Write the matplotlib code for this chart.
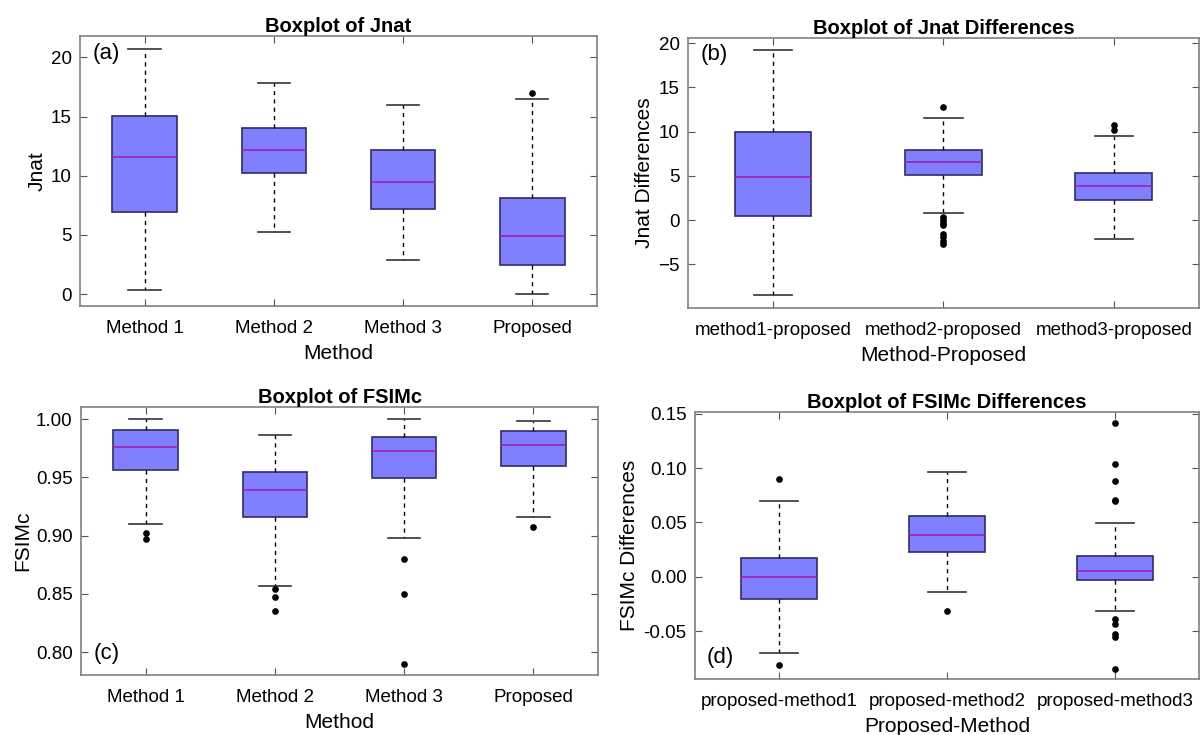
import numpy as np
import matplotlib
matplotlib.use("Agg")
import matplotlib.pyplot as plt
from matplotlib.ticker import FormatStrFormatter

plt.rcParams['font.family'] = ['Liberation Sans', 'DejaVu Sans']

# (a) Jnat
a_labels = ["Method 1", "Method 2", "Method 3", "Proposed"]
a_whislo = [0.34, 5.25, 2.86, 0.05]
a_q1 = [6.93, 10.2, 7.15, 2.5]
a_med = [11.6, 12.2, 9.5, 4.9]
a_q3 = [15.03, 14.0, 12.2, 8.15]
a_whishi = [20.7, 17.8, 15.95, 16.5]
a_fliers = [[], [], [], [17.0]]

# (b) Jnat differences
b_labels = ["method1-proposed", "method2-proposed", "method3-proposed"]
b_whislo = [-8.46, 0.75, -2.18]
b_q1 = [0.5, 5.08, 2.29]
b_med = [4.9, 6.58, 3.8]
b_q3 = [10.0, 7.93, 5.34]
b_whishi = [19.2, 11.55, 9.55]
b_fliers = [[], [12.75, 0.35, 0.05, -0.3, -0.6, -1.6, -1.95, -2.4, -2.7],
            [10.75, 10.2]]

# (c) FSIMc
c_labels = ["Method 1", "Method 2", "Method 3", "Proposed"]
c_whislo = [0.910, 0.857, 0.898, 0.9163]
c_q1 = [0.956, 0.916, 0.949, 0.960]
c_med = [0.976, 0.939, 0.9725, 0.978]
c_q3 = [0.991, 0.9546, 0.985, 0.990]
c_whishi = [1.000, 0.986, 1.000, 0.9986]
c_fliers = [[0.902, 0.897], [0.854, 0.847, 0.835], [0.880, 0.850, 0.790], [0.9077]]

# (d) FSIMc differences
d_labels = ["proposed-method1", "proposed-method2", "proposed-method3"]
d_whislo = [-0.0698, -0.0136, -0.0318]
d_q1 = [-0.0204, 0.0225, -0.0034]
d_med = [-0.0006, 0.0386, 0.0052]
d_q3 = [0.0176, 0.0559, 0.0188]
d_whishi = [0.070, 0.0966, 0.0494]
d_fliers = [[0.0898, -0.0815], [-0.0312],
            [0.142, 0.1037, 0.088, 0.0705, 0.0695, -0.0389, -0.0435, -0.0525, -0.0556, -0.0846]]

fig = plt.figure(figsize=(12.04, 7.35), dpi=100)

def panel(rect, labels, whislo, q1, med, q3, whishi, fliers, width,
          title, xlabel, ylabel, ylim, yticks, tag, tag_y, fmt=None):
    ax = fig.add_axes(rect)
    stats = []
    for i in range(len(labels)):
        stats.append(dict(whislo=whislo[i], q1=q1[i], med=med[i], q3=q3[i],
                          whishi=whishi[i], fliers=fliers[i]))
    ax.bxp(stats, widths=width, patch_artist=True, capwidths=width / 2,
           boxprops=dict(facecolor="#8080ff", edgecolor="#2e2e66", linewidth=1.2),
           medianprops=dict(color="#a020b0", linewidth=1.2),
           whiskerprops=dict(color="black", linestyle=(0, (3, 3)), linewidth=1),
           capprops=dict(color="#333333", linewidth=1.2),
           flierprops=dict(marker="o", markerfacecolor="black", markeredgecolor="black",
                           markersize=3.8))
    ax.set_xticks(range(1, len(labels) + 1))
    ax.set_xticklabels(labels)
    ax.set_xlim(0.5, len(labels) + 0.5)
    ax.set_ylim(*ylim)
    ax.set_yticks(yticks)
    if fmt:
        ax.yaxis.set_major_formatter(FormatStrFormatter(fmt))
    ax.tick_params(direction="in", top=True, right=True, labelsize=13.5,
                   length=5, color="#555555")
    ax.tick_params(axis="x", pad=10)
    ax.tick_params(axis="y", pad=6)
    for s in ax.spines.values():
        s.set_color("#808080")
        s.set_linewidth(1.2)
    ax.set_title(title, fontsize=14.5, fontweight="bold", pad=3)
    ax.set_xlabel(xlabel, fontsize=15, labelpad=5)
    ax.set_ylabel(ylabel, fontsize=15, labelpad=3)
    ax.text(0.024, tag_y, tag, transform=ax.transAxes, fontsize=16,
            va="center", ha="left")
    return ax

panel([0.0664, 0.5837, 0.4294, 0.3673], a_labels, a_whislo, a_q1, a_med, a_q3,
      a_whishi, a_fliers, 0.5, "Boxplot of Jnat", "Method", "Jnat",
      (-1.0, 21.8), [0, 5, 10, 15, 20], "(a)", 0.937)
panel([0.5714, 0.5810, 0.4244, 0.3673], b_labels, b_whislo, b_q1, b_med, b_q3,
      b_whishi, b_fliers, 0.45, "Boxplot of Jnat Differences", "Method-Proposed",
      "Jnat Differences", (-9.95, 20.6), [-5, 0, 5, 10, 15, 20], "(b)", 0.94)
panel([0.0673, 0.0816, 0.4294, 0.3646], c_labels, c_whislo, c_q1, c_med, c_q3,
      c_whishi, c_fliers, 0.5, "Boxplot of FSIMc", "Method", "FSIMc",
      (0.7803, 1.0103), [0.80, 0.85, 0.90, 0.95, 1.00], "(c)", 0.082, "%.2f")
panel([0.5772, 0.0762, 0.4186, 0.3633], d_labels, d_whislo, d_q1, d_med, d_q3,
      d_whishi, d_fliers, 0.45, "Boxplot of FSIMc Differences", "Proposed-Method",
      "FSIMc Differences", (-0.0942, 0.1518), [-0.05, 0.00, 0.05, 0.10, 0.15],
      "(d)", 0.082, "%.2f")

fig.savefig("out.png", dpi=100)
